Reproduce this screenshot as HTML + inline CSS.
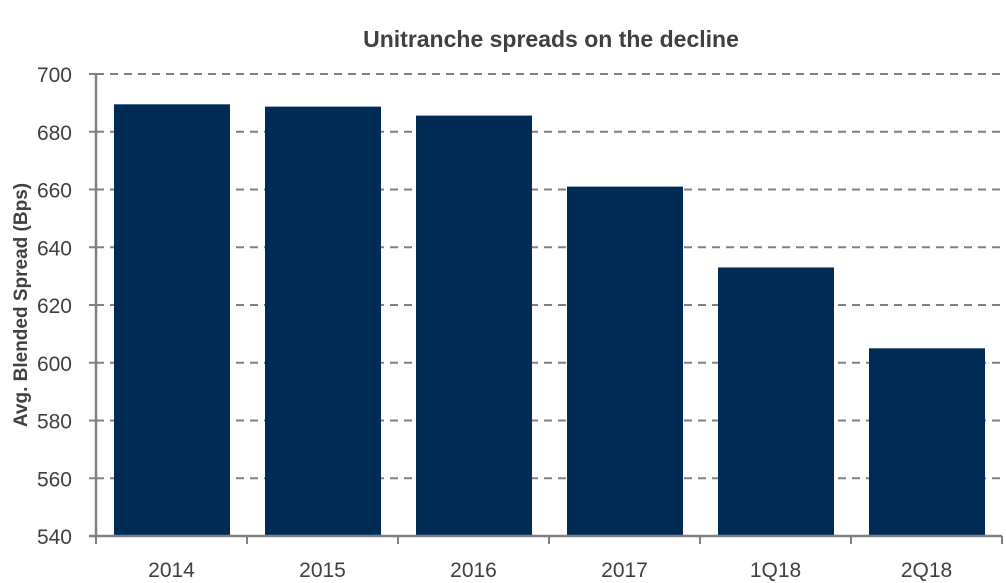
<!DOCTYPE html>
<html><head><meta charset="utf-8"><style>
html,body{margin:0;padding:0;background:#fff;}
svg{display:block;font-family:"Liberation Sans",sans-serif;}
</style></head><body>
<svg id="chart" width="1006" height="583" viewBox="0 0 1006 583">
<text x="551" y="47" text-anchor="middle" font-size="23" font-weight="bold" fill="#404040">Unitranche spreads on the decline</text>
<text transform="translate(27,305) rotate(-90)" text-anchor="middle" font-size="19" font-weight="bold" fill="#404040">Avg. Blended Spread (Bps)</text>
<g id="grid"></g><g id="bars"></g><g id="axes"></g>
</svg>
<script>
const categories = ["2014","2015","2016","2017","1Q18","2Q18"];
const values = [689.5, 688.7, 685.6, 661, 633, 605];
const yTicks = [540,560,580,600,620,640,660,680,700];
const ns="http://www.w3.org/2000/svg";
const x0=96,x1=1002,y0=536,y1=74,vmin=540,vmax=700;
const y=v=>y0-(v-vmin)/(vmax-vmin)*(y0-y1);
const band=(x1-x0)/categories.length;
function mk(t,a,p){const e=document.createElementNS(ns,t);for(const k in a)e.setAttribute(k,a[k]);p.appendChild(e);return e;}
const grid=document.getElementById('grid'),bars=document.getElementById('bars'),axes=document.getElementById('axes');
yTicks.forEach(v=>{
  if(v>vmin){const l=mk('line',{x1:x0,x2:x1,y1:y(v),y2:y(v),stroke:'#808080','stroke-width':2,'stroke-dasharray':'8,6'},grid);
  
  }
  const tk=mk('line',{x1:x0-7,x2:x0,y1:y(v),y2:y(v),stroke:'#808080','stroke-width':2},axes);
  
  
  const t=mk('text',{x:x0-24,y:y(v)+8,'text-anchor':'end','font-size':21,fill:'#404040'},axes);
  t.textContent=v;
  
  
});
categories.forEach((c,i)=>{
  const bx=x0+band*i+18,bw=band-35;
  const r=mk('rect',{x:bx,y:y(values[i]),width:bw,height:y0-y(values[i]),fill:'#002b54'},bars);
  
  
  const t=mk('text',{x:x0+band*(i+0.5),y:577,'text-anchor':'middle','font-size':21,fill:'#404040'},axes);
  t.textContent=c;
  
  
});
for(let i=0;i<=categories.length;i++){
  const tk=mk('line',{x1:x0+band*i,x2:x0+band*i,y1:y0,y2:y0+8,stroke:'#808080','stroke-width':2},axes);
  
  
}
const xa=mk('line',{x1:x0-7,x2:x1,y1:y0,y2:y0,stroke:'#808080','stroke-width':2.5},axes);


const ya=mk('line',{x1:x0,x2:x0,y1:y1,y2:y0,stroke:'#808080','stroke-width':2.5},axes);


</script>
</body></html>
